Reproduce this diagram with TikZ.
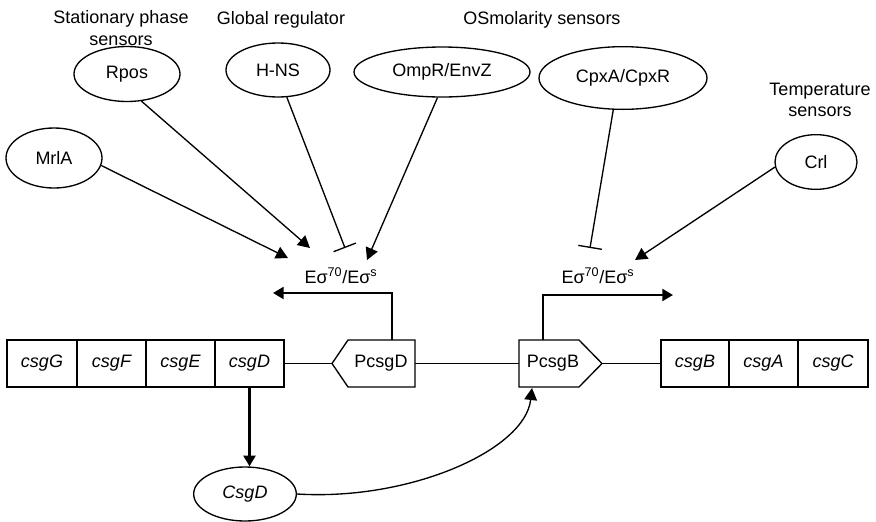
\documentclass[tikz,border=0pt]{standalone}
\usepackage{fontspec}
\setmainfont{Liberation Sans}
\usetikzlibrary{shapes.geometric,arrows.meta}
\begin{document}
\begin{tikzpicture}[x=0.75pt,y=-0.75pt, line width=1pt,
  every node/.style={font=\fontsize{13.5}{16}\selectfont},
  ell/.style={draw, ellipse, inner sep=0pt},
  gene/.style={draw, rectangle, minimum height=35.25pt, inner sep=0pt, font=\fontsize{13.5}{16}\selectfont\itshape},
  lab/.style={inner sep=0pt, align=center},
  act/.style={-{Triangle[length=9pt,width=9.5pt]}},
  thickact/.style={line width=1.6pt, -{Triangle[length=8pt,width=9pt]}},
  inh/.style={-{Bar[width=18pt]}}]
\useasboundingbox (0,0) rectangle (876,522);
% group labels
\node[lab] (lstat) at (121,28) {Stationary phase\\sensors};
\node[lab] (lglob) at (281,20) {Global regulator};
\node[lab] (losm) at (542,20) {OSmolarity sensors};
\node[lab] (ltemp) at (820,100) {Temperature\\sensors};
% regulators
\node[ell, minimum width=79.5pt, minimum height=41.25pt] (rpos) at (127,74) {Rpos};
\node[ell, minimum width=78pt, minimum height=40.5pt] (hns) at (278,70) {H-NS};
\node[ell, minimum width=132pt, minimum height=37.5pt] (omp) at (442,72) {OmpR/EnvZ};
\node[ell, minimum width=126pt, minimum height=47pt] (cpx) at (623,78) {CpxA/CpxR};
\node[ell, minimum width=72pt, minimum height=45pt] (mrla) at (54,158) {MrlA};
\node[ell, minimum width=61.5pt, minimum height=41pt] (crl) at (816,162) {Crl};
% targets
\coordinate (aMrl) at (288,258);
\coordinate (aRpos) at (310,248);
\coordinate (bH) at (345,248);
\coordinate (aOmp) at (367,260);
\coordinate (bC) at (590,248);
\coordinate (aCrl) at (635,260);
\draw[act] (mrla.-9) -- (aMrl);
\draw[act] (rpos.-62) -- (aRpos);
\draw[inh] (hns.-72) -- (bH);
\draw[act] (omp.-100) -- (aOmp);
\draw[inh] (cpx.-107) -- (bC);
\draw[act] (crl.187) -- (aCrl);
% sigma labels
\node[lab] (sigL) at (341,276) {Eσ\textsuperscript{70}/Eσ\textsuperscript{s}};
\node[lab] (sigR) at (598,276) {Eσ\textsuperscript{70}/Eσ\textsuperscript{s}};
% genes left
\node[gene, minimum width=52.5pt] (csgG) at (42,363.5) {csgG};
\node[gene, minimum width=51.75pt] (csgF) at (111.5,363.5) {csgF};
\node[gene, minimum width=51.75pt] (csgE) at (180.5,363.5) {csgE};
\node[gene, minimum width=51.75pt] (csgD) at (249.5,363.5) {csgD};
% genes right
\node[gene, minimum width=51pt] (csgB) at (695,363.5) {csgB};
\node[gene, minimum width=51.75pt] (csgA) at (763.5,363.5) {csgA};
\node[gene, minimum width=52.5pt] (csgC) at (833,363.5) {csgC};
% promoters
\node[lab] (pD) at (381,363.5) {PcsgD};
\draw (332,363.5) -- (348,340) -- (415,340) -- (415,387) -- (348,387) -- cycle;
\coordinate (pDtip) at (332,363.5);
\coordinate (pDright) at (415,363.5);
\coordinate (pDtop) at (392,340);
\node[lab] (pB) at (553,363.5) {PcsgB};
\draw (519,340) -- (579,340) -- (602,363.5) -- (579,387) -- (519,387) -- cycle;
\coordinate (pBleft) at (519,363.5);
\coordinate (pBtip) at (602,363.5);
\coordinate (pBtop) at (543,340);
\coordinate (pBbot) at (532,388);
% transcription arrows
\coordinate (tL) at (273,293);
\coordinate (tR) at (673,295);
\draw[thickact] (pDtop) |- (tL);
\draw[thickact] (pBtop) |- (tR);
% backbone
\draw (csgD.east) -- (pDtip);
\draw (pDright) -- (pBleft);
\draw (pBtip) -- (csgB.west);
% CsgD protein
\node[ell, minimum width=77pt, minimum height=40.5pt, font=\fontsize{13.5}{16}\selectfont\itshape] (prot) at (245,494) {CsgD};
\draw[thickact] (csgD.south) -- (csgD.south |- prot.north);
\draw[act] (prot.east) .. controls (410,501) and (525,450) .. (pBbot);
\end{tikzpicture}
\end{document}
